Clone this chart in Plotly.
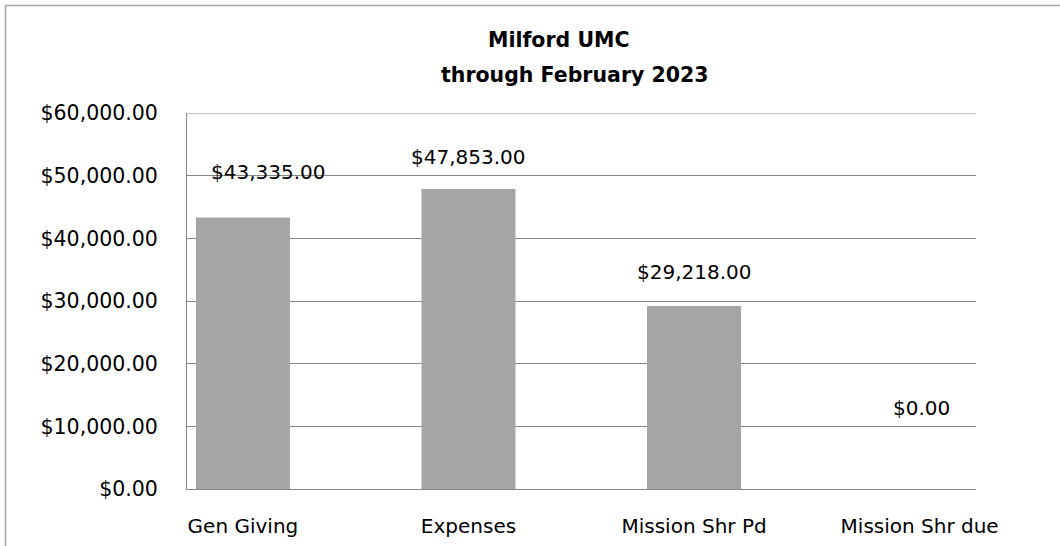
import plotly.graph_objects as go

categories = ["Gen Giving", "Expenses", "Mission Shr Pd", "Mission Shr due"]
values = [43335.00, 47853.00, 29218.00, 0.00]
tick_values = [0, 10000, 20000, 30000, 40000, 50000, 60000]
tick_labels = ["$0.00", "$10,000.00", "$20,000.00", "$30,000.00", "$40,000.00", "$50,000.00", "$60,000.00"]
title_lines = ["Milford UMC", "through February 2023"]

# label pixel offsets (manually placed labels in the original)
label_xshift = [26, 0, 0, 2]
label_yshift = [45, 32, 34, 81]

W, H = 1060, 546
L, R, T, B = 187, 84, 113, 57
FONT = "DejaVu Sans"
GRID = "#878787"

fig = go.Figure(go.Bar(
    x=categories, y=values, width=0.417,
    marker=dict(color="#a5a5a5", line=dict(width=0)),
    hoverinfo="skip",
))

for c, v, dx, dy in zip(categories, values, label_xshift, label_yshift):
    fig.add_annotation(x=c, y=v, xref="x", yref="y", text="$" + f"{v:,.2f}",
                       showarrow=False, xshift=dx, yshift=dy, yanchor="middle",
                       font=dict(family=FONT, size=20, color="#000000"))

pw = W - L - R
ph = H - T - B
def px(xp):
    return (xp - L) / pw
def py(yp):
    return (H - B - yp) / ph

fig.add_annotation(x=px(558), y=py(40), xref="paper", yref="paper", text="<b>" + title_lines[0] + "</b>",
                   showarrow=False, xanchor="center", yanchor="middle",
                   font=dict(family=FONT, size=20.5, color="#000000"))
fig.add_annotation(x=px(575), y=py(75), xref="paper", yref="paper", text="<b>" + title_lines[1] + "</b>",
                   showarrow=False, xanchor="center", yanchor="middle",
                   font=dict(family=FONT, size=20.5, color="#000000"))

# top gridline (at the range edge)
fig.add_shape(type="line", xref="paper", yref="y", x0=0, x1=1,
              y0=tick_values[-1], y1=tick_values[-1],
              line=dict(color=GRID, width=1), layer="below")

# outer chart border (cropped at right and bottom in the original)
fig.add_shape(type="rect", xref="paper", yref="paper",
              x0=px(5.5), x1=px(1075), y0=py(560), y1=py(5.5),
              line=dict(color="#a6a6a6", width=1.5), fillcolor="rgba(0,0,0,0)", layer="below")

fig.update_layout(
    width=W, height=H,
    margin=dict(l=L, r=R, t=T, b=B, pad=0, autoexpand=False),
    paper_bgcolor="white", plot_bgcolor="white",
    showlegend=False,
    font=dict(family=FONT, size=20, color="#000000"),
)
fig.update_xaxes(
    type="category", range=[-0.248, 3.25], automargin=False,
    showgrid=False, showline=True, linecolor=GRID, linewidth=1,
    ticks="", ticklabelstandoff=19,
    tickfont=dict(family=FONT, size=20, color="#000000"),
    fixedrange=True,
)
fig.update_yaxes(
    range=[0, 60000], tickvals=tick_values, ticktext=tick_labels, automargin=False,
    showgrid=True, gridcolor=GRID, gridwidth=1,
    showline=True, linecolor=GRID, linewidth=1,
    ticks="", ticklabelstandoff=24, zeroline=False,
    tickfont=dict(family=FONT, size=20.5, color="#000000"),
    fixedrange=True,
)

fig.write_html("out.html", config={"displayModeBar": False, "staticPlot": True},
               post_script="document.body.style.margin='0';document.body.style.overflow='hidden';")
